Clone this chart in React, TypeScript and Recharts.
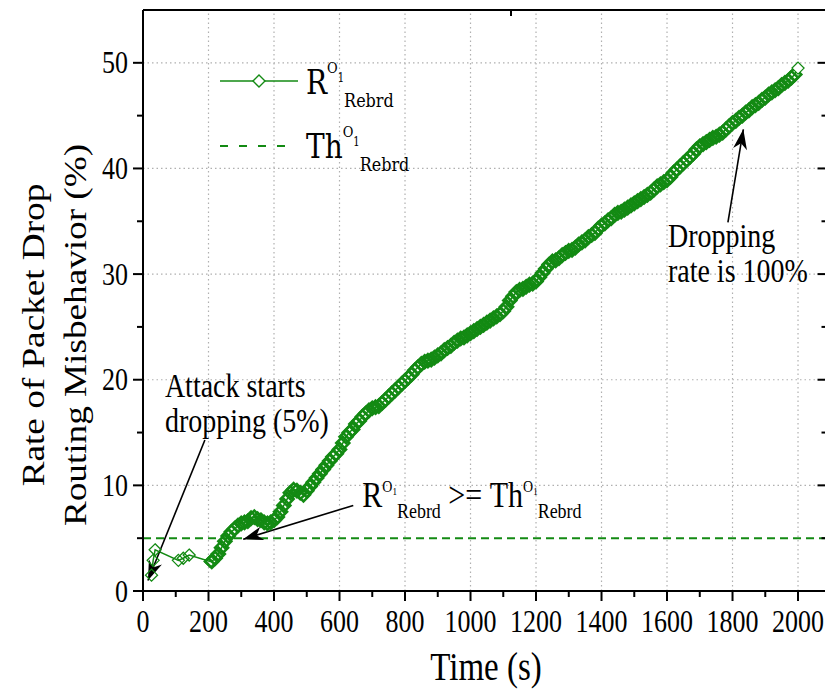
import React from 'react';
import { LineChart, Line, XAxis, YAxis, ReferenceLine } from 'recharts';

// sparse samples right after the attack begins
const earlyTimes = [26, 31, 37, 108, 123, 141, 205];
const earlyRates = [1.5, 2.9, 3.9, 2.9, 3.1, 3.4, 2.8];

// dense samples
const attackTimes = [
  210, 220, 230, 240, 250, 260, 270, 280, 290, 300,
  310, 320, 330, 340, 350, 360, 370, 380, 390, 400,
  410, 420, 430, 440, 450, 460, 470, 480, 490, 500,
  510, 520, 530, 540, 550, 560, 570, 580, 590, 600,
  610, 620, 630, 640, 650, 660, 670, 680, 690, 700,
  710, 720, 730, 740, 750, 760, 770, 780, 790, 800,
  810, 820, 830, 840, 850, 860, 870, 880, 890, 900,
  910, 920, 930, 940, 950, 960, 970, 980, 990, 1000,
  1010, 1020, 1030, 1040, 1050, 1060, 1070, 1080, 1090, 1100,
  1110, 1120, 1130, 1140, 1150, 1160, 1170, 1180, 1190, 1200,
  1210, 1220, 1230, 1240, 1250, 1260, 1270, 1280, 1290, 1300,
  1310, 1320, 1330, 1340, 1350, 1360, 1370, 1380, 1390, 1400,
  1410, 1420, 1430, 1440, 1450, 1460, 1470, 1480, 1490, 1500,
  1510, 1520, 1530, 1540, 1550, 1560, 1570, 1580, 1590, 1600,
  1610, 1620, 1630, 1640, 1650, 1660, 1670, 1680, 1690, 1700,
  1710, 1720, 1730, 1740, 1750, 1760, 1770, 1780, 1790, 1800,
  1810, 1820, 1830, 1840, 1850, 1860, 1870, 1880, 1890, 1900,
  1910, 1920, 1930, 1940, 1950, 1960, 1970, 1980, 1990, 2000,
];
const attackRates = [
  2.8, 3.1, 3.5, 4.1, 4.7, 5.2, 5.6, 5.9, 6.2, 6.4,
  6.5, 6.6, 6.9, 7.0, 6.8, 6.7, 6.5, 6.4, 6.5, 6.7,
  7.0, 7.5, 8.1, 8.7, 9.3, 9.6, 9.5, 9.3, 9.1, 9.5,
  9.9, 10.3, 10.7, 11.1, 11.5, 11.9, 12.3, 12.7, 13.0, 13.4,
  14.0, 14.6, 15.0, 15.3, 15.8, 16.1, 16.5, 16.8, 17.1, 17.3,
  17.4, 17.5, 17.8, 18.1, 18.4, 18.7, 19.0, 19.3, 19.6, 19.9,
  20.2, 20.5, 20.9, 21.2, 21.5, 21.7, 21.8, 21.9, 22.1, 22.3,
  22.5, 22.8, 23.0, 23.2, 23.5, 23.7, 23.9, 24.0, 24.2, 24.4,
  24.6, 24.8, 25.0, 25.2, 25.4, 25.6, 25.8, 26.0, 26.2, 26.5,
  26.9, 27.5, 27.9, 28.3, 28.5, 28.6, 28.8, 29.0, 29.1, 29.3,
  29.7, 30.1, 30.5, 30.9, 31.2, 31.3, 31.5, 31.8, 32.0, 32.2,
  32.3, 32.5, 32.8, 33.0, 33.2, 33.5, 33.7, 33.9, 34.3, 34.6,
  34.8, 35.1, 35.3, 35.6, 35.8, 35.9, 36.1, 36.3, 36.5, 36.7,
  36.9, 37.1, 37.3, 37.5, 37.7, 38.0, 38.3, 38.5, 38.7, 38.9,
  39.2, 39.6, 39.9, 40.2, 40.5, 40.8, 41.1, 41.4, 41.8, 42.1,
  42.3, 42.5, 42.7, 42.9, 43.0, 43.2, 43.4, 43.7, 44.0, 44.3,
  44.5, 44.8, 45.0, 45.3, 45.5, 45.8, 46.0, 46.2, 46.5, 46.7,
  47.0, 47.2, 47.4, 47.6, 47.9, 48.1, 48.3, 48.6, 48.9, 49.5,
];

const thresholdRate = 5;

const xTicks = [0, 100, 200, 300, 400, 500, 600, 700, 800, 900, 1000, 1100, 1200, 1300, 1400, 1500, 1600, 1700, 1800, 1900, 2000];
const yTicks = [0, 5, 10, 15, 20, 25, 30, 35, 40, 45, 50];
const xGrid = [200, 400, 600, 800, 1000, 1200, 1400, 1600, 1800, 2000];
const yGrid = [10, 20, 30, 40, 50];

const data = [
  ...earlyTimes.map((t, i) => ({ time: t, rate: earlyRates[i] })),
  ...attackTimes.map((t, i) => ({ time: t, rate: attackRates[i] })),
];

const GREEN = '#138a13';
const SERIF = 'Liberation Serif, Times New Roman, serif';
const LEGEND_FONT = 'DejaVu Serif, serif';
const SY = 1.2; // the original figure is stretched vertically

function SText({ x, y, size, anchor = 'start', rotate = false, family = SERIF, children }: any) {
  return (
    <text
      transform={`translate(${x},${y}) scale(1,${SY})${rotate ? ' rotate(-90)' : ''}`}
      fontSize={size}
      style={{ fontFamily: family }}
      textAnchor={anchor}
      fill="#000"
    >
      {children}
    </text>
  );
}

// R^{O_1}_{Rebrd} style pieces, offsets are screen px from the baseline
function subSup(base: string, s: { size: number; sup: number; idx: number; sub: number; supY: number; idxY: number; subY: number }, key: string) {
  return [
    <tspan key={key + 'b'} y={0} fontSize={s.size}>{base}</tspan>,
    <tspan key={key + 'o'} y={s.supY / SY} fontSize={s.sup}>O</tspan>,
    <tspan key={key + 'i'} y={s.idxY / SY} fontSize={s.idx}>1</tspan>,
    <tspan key={key + 's'} y={s.subY / SY} fontSize={s.sub}>Rebrd</tspan>,
  ];
}

const bottomTick = (p: any) => {
  const major = p.payload.value % 200 === 0;
  return (
    <g>
      <line x1={p.x} x2={p.x} y1={p.y} y2={p.y + (major ? 10 : 6)} stroke="#000" strokeWidth={2} />
      {major && <SText x={p.x} y={632} size={26} anchor="middle">{p.payload.value}</SText>}
    </g>
  );
};
const topTick = (p: any) => {
  const major = p.payload.value % 200 === 0;
  return <line x1={p.x} x2={p.x} y1={p.y} y2={p.y + (major ? 10 : 6)} stroke="#000" strokeWidth={2} />;
};
const leftTick = (p: any) => {
  const major = p.payload.value % 10 === 0;
  return (
    <g>
      <line x1={p.x} x2={p.x - (major ? 10 : 6)} y1={p.y} y2={p.y} stroke="#000" strokeWidth={2} />
      {major && <SText x={p.x - 15} y={p.y + 10.5} size={26} anchor="end">{p.payload.value}</SText>}
    </g>
  );
};
const rightTick = (p: any) => {
  const major = p.payload.value % 10 === 0;
  return <line x1={p.x} x2={p.x - (major ? 10 : 6)} y1={p.y} y2={p.y} stroke="#000" strokeWidth={2} />;
};

const diamondPath = (cx: number, cy: number, r: number) =>
  `M${cx},${cy - r}L${cx + r},${cy}L${cx},${cy + r}L${cx - r},${cy}Z`;

// sparse early points and the last point show as hollow diamonds; the dense run merges into a band
const renderDiamond = (p: any) => {
  const { cx, cy, index } = p;
  if (cx == null || cy == null) return <g key={`d${index}`} />;
  const sparse = index < earlyTimes.length;
  const last = index === data.length - 1;
  return (
    <path
      key={`d${index}`}
      d={diamondPath(cx, cy, sparse || last ? 6 : 6.5)}
      fill={last ? '#fff' : 'none'}
      stroke={GREEN}
      strokeWidth={sparse || last ? 1.3 : 2.6}
    />
  );
};

function arrowHead(x1: number, y1: number, x2: number, y2: number) {
  const a = Math.atan2(y2 - y1, x2 - x1);
  const len = 20;
  const w = 7;
  const bx = x2 - len * Math.cos(a);
  const by = y2 - len * Math.sin(a);
  const nx = x2 - len * 0.7 * Math.cos(a);
  const ny = y2 - len * 0.7 * Math.sin(a);
  const px = -Math.sin(a) * w;
  const py = Math.cos(a) * w;
  return `M${x2},${y2}L${bx + px},${by + py}L${nx},${ny}L${bx - px},${by - py}Z`;
}

const makeArrow = (label: (x: number, y: number) => React.ReactNode) => (p: any) => {
  const { x1, y1, x2, y2 } = p;
  return (
    <g>
      <line x1={x1} y1={y1} x2={x2} y2={y2} stroke="#000" strokeWidth={1.6} />
      <path d={arrowHead(x1, y1, x2, y2)} fill="#000" />
      {label(x1, y1)}
    </g>
  );
};

const attackArrow = makeArrow((x, y) => (
  <g>
    <SText x={x - 40} y={y - 43} size={28}>Attack starts</SText>
    <SText x={x - 40} y={y - 8} size={28}>dropping (5%)</SText>
  </g>
));

const annSizes = { size: 30, sup: 14, idx: 9, sub: 18, supY: -15, idxY: -12, subY: 11 };
const thresholdArrow = makeArrow((x, y) => (
  <text transform={`translate(${x + 9},${y + 2}) scale(1,${SY})`} style={{ fontFamily: SERIF }} fill="#000">
    {subSup('R', annSizes, 'a')}
    <tspan y={0} fontSize={30}>{' >= '}</tspan>
    {subSup('Th', annSizes, 'b')}
  </text>
));

const fullRateArrow = makeArrow((x, y) => (
  <g>
    <SText x={x - 60} y={y + 25} size={28}>Dropping</SText>
    <SText x={x - 60} y={y + 60} size={28}>rate is 100%</SText>
  </g>
));

const legSizes = { size: 28, sup: 13, idx: 10, sub: 16, supY: -21, idxY: -12, subY: 13 };

function Legend() {
  return (
    <svg width={825} height={690} style={{ position: 'absolute', left: 0, top: 0, pointerEvents: 'none' }}>
      <line x1={220} x2={298} y1={81} y2={81} stroke={GREEN} strokeWidth={1.5} />
      <path d={diamondPath(259, 81, 6)} fill="#fff" stroke={GREEN} strokeWidth={1.4} />
      <text transform={`translate(306,94) scale(1,${SY})`} style={{ fontFamily: LEGEND_FONT }} fill="#000">
        {subSup('R', legSizes, 'l1')}
      </text>
      <line x1={220} x2={285} y1={146} y2={146} stroke={GREEN} strokeWidth={2} strokeDasharray="8 11" />
      <text transform={`translate(306,158) scale(1,${SY})`} style={{ fontFamily: LEGEND_FONT }} fill="#000">
        {subSup('Th', legSizes, 'l2')}
      </text>
      <SText x={486} y={680} size={33} anchor="middle">Time (s)</SText>
      <SText x={44} y={335} size={31} anchor="middle" rotate>Rate of Packet Drop</SText>
      <SText x={86} y={335} size={31} anchor="middle" rotate>Routing Misbehavior (%)</SText>
    </svg>
  );
}

export default function App() {
  return (
    <div style={{ position: 'absolute', left: 0, top: 0, width: 825, height: 690, overflow: 'hidden', background: '#fff' }}>
      <LineChart width={840} height={690} data={data} margin={{ top: 9, right: 11.5, left: 83, bottom: 39 }}>
        <XAxis
          dataKey="time"
          type="number"
          domain={[0, 2090]}
          ticks={xTicks}
          interval={0}
          allowDataOverflow
          height={60}
          tickSize={0}
          tickMargin={0}
          tickLine={false}
          axisLine={{ stroke: '#000', strokeWidth: 2 }}
          tick={bottomTick}
        />
        <XAxis
          xAxisId="top"
          orientation="top"
          type="number"
          domain={[0, 2090]}
          ticks={xTicks}
          interval={0}
          allowDataOverflow
          height={1}
          tickSize={0}
          tickMargin={0}
          tickLine={false}
          axisLine={{ stroke: '#000', strokeWidth: 2 }}
          tick={topTick}
        />
        <YAxis
          type="number"
          domain={[0, 55]}
          ticks={yTicks}
          interval={0}
          allowDataOverflow
          width={60}
          tickSize={0}
          tickMargin={0}
          tickLine={false}
          axisLine={{ stroke: '#000', strokeWidth: 2 }}
          tick={leftTick}
        />
        <YAxis
          yAxisId="right"
          orientation="right"
          type="number"
          domain={[0, 55]}
          ticks={yTicks}
          interval={0}
          allowDataOverflow
          width={1}
          tickSize={0}
          tickMargin={0}
          tickLine={false}
          axisLine={{ stroke: '#000', strokeWidth: 2 }}
          tick={rightTick}
        />
        {xGrid.map((v) => (
          <ReferenceLine key={`gx${v}`} x={v} stroke="#b0b0b0" strokeWidth={1.2} strokeDasharray="1.5 3" />
        ))}
        {yGrid.map((v) => (
          <ReferenceLine key={`gy${v}`} y={v} stroke="#b0b0b0" strokeWidth={1.2} strokeDasharray="1.5 3" />
        ))}
        <ReferenceLine y={thresholdRate} stroke={GREEN} strokeWidth={2} strokeDasharray="8 5" />
        <Line
          dataKey="rate"
          type="linear"
          stroke={GREEN}
          strokeWidth={1.5}
          dot={renderDiamond}
          activeDot={false}
          isAnimationActive={false}
        />
        <ReferenceLine segment={[{ x: 189, y: 14.3 }, { x: 15, y: 1.0 }]} shape={attackArrow} ifOverflow="visible" />
        <ReferenceLine segment={[{ x: 642, y: 8.1 }, { x: 306, y: 4.9 }]} shape={thresholdArrow} ifOverflow="visible" />
        <ReferenceLine segment={[{ x: 1786, y: 34.9 }, { x: 1833, y: 43.7 }]} shape={fullRateArrow} ifOverflow="visible" />
      </LineChart>
      <Legend />
    </div>
  );
}
